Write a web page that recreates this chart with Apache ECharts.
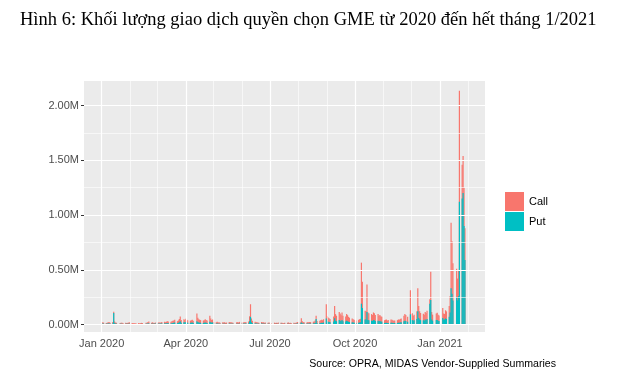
<!DOCTYPE html>
<html><head><meta charset="utf-8">
<script src="https://cdn.jsdelivr.net/npm/echarts@6/dist/echarts.min.js"></script>
<style>html,body{margin:0;padding:0;background:#fff}#c{width:626px;height:375px}</style>
</head><body><div id="c"></div>
<script>
// Daily GME option volume, thousands of contracts
const callJan20 = [12,10,8,9,11,14,10,12,12,15,10,9,8,10,9,8,10,8,9,10,12];
const putJan20  = [8,7,6,7,9,8,6,10,105,12,8,7,6,7,6,5,7,6,6,7,8];
const callFeb20 = [8,7,9,6,7,8,6,7,9,8,10,9,14,18,10,12,9,8,11];
const putFeb20  = [5,4,5,4,5,5,4,5,6,5,6,6,8,10,7,8,6,6,8];
const callMar20 = [10,12,9,11,13,15,12,14,18,16,15,17,20,22,25,18,22,30,42,25,28,24];
const putMar20  = [7,8,6,8,9,10,9,10,12,11,10,12,14,15,18,12,15,20,30,16,20,18];
const callApr20 = [30,25,22,20,22,25,20,70,40,30,28,25,22,24,30,26,22,55,35,25,28];
const putApr20  = [22,18,16,15,16,18,14,30,22,18,16,15,14,15,18,16,14,25,20,16,18];
const callMay20 = [15,14,16,12,13,11,14,12,13,10,12,15,13,14,12,11,13,14,12,16];
const putMay20  = [8,7,8,6,7,6,7,6,7,5,6,8,7,7,6,6,7,7,6,8];
const callJun20 = [12,11,14,13,15,18,45,115,35,22,16,14,13,12,11,14,12,13,11,12,10,12];
const putJun20  = [7,6,8,7,8,10,30,70,20,12,9,8,7,7,6,8,7,7,6,7,6,7];
const callJul20 = [10,9,11,8,10,9,12,11,10,9,8,11,10,12,9,10,8,11,9,10,12,14];
const putJul20  = [6,5,6,5,6,5,7,6,6,5,5,6,6,7,5,6,5,6,5,6,7,8];
const callAug20 = [12,40,20,14,13,12,14,13,15,14,16,18,22,30,20,22,25,28,24,30,130];
const putAug20  = [7,18,10,8,7,7,8,7,8,8,9,10,14,50,12,12,14,16,14,18,55];
const callSep20 = [45,40,35,30,45,110,60,50,75,65,55,70,50,45,60,55,45,40,35,30,28];
const putSep20  = [30,25,22,20,28,58,35,30,40,35,30,40,30,28,35,30,25,22,20,18,16];
const callOct20 = [25,22,28,30,32,375,240,80,75,250,70,65,60,55,70,65,55,60,50,55,48,45];
const putOct20  = [15,14,16,18,20,190,150,45,45,115,40,38,35,32,40,38,32,35,30,32,28,26];
const callNov20 = [25,28,30,24,26,30,28,25,22,24,26,30,28,32,35,50,60,55,45,220];
const putNov20  = [14,15,16,13,14,16,15,14,12,13,14,16,15,18,20,30,35,32,25,93];
const callDec20 = [55,60,45,50,70,210,110,75,65,60,55,70,65,75,40,259,70,55,60,65,55,50];
const putDec20  = [40,42,35,38,50,120,60,45,40,38,35,45,40,50,190,223,45,35,40,42,35,32];
const callJan21 = [90,55,50,75,70,100,150,600,480,340,260,200,230,1015,310,340,350,290];
const putJan21  = [60,45,45,55,50,70,110,330,280,220,250,220,260,1120,1150,1200,900,590];

const HOLIDAYS = ['2020-01-01','2020-01-20','2020-02-17','2020-04-10','2020-05-25','2020-07-03',
  '2020-09-07','2020-11-26','2020-12-25','2021-01-01','2021-01-18'];
const LAST_DAY = '2021-01-28';

const MONTHS = [
  [2020,0,callJan20,putJan20],[2020,1,callFeb20,putFeb20],[2020,2,callMar20,putMar20],
  [2020,3,callApr20,putApr20],[2020,4,callMay20,putMay20],[2020,5,callJun20,putJun20],
  [2020,6,callJul20,putJul20],[2020,7,callAug20,putAug20],[2020,8,callSep20,putSep20],
  [2020,9,callOct20,putOct20],[2020,10,callNov20,putNov20],[2020,11,callDec20,putDec20],
  [2021,0,callJan21,putJan21]
];

const Y_TICKS = [0, 500000, 1000000, 1500000, 2000000];
const Y_MINOR = [250000, 750000, 1250000, 1750000];
const X_TICKS = ['2020-01-01','2020-04-01','2020-07-01','2020-10-01','2021-01-01'];
const X_MINOR = ['2020-02-01','2020-03-01','2020-05-01','2020-06-01','2020-08-01','2020-09-01',
  '2020-11-01','2020-12-01','2021-02-01'];
const MONTH_ABBR = ['Jan','Feb','Mar','Apr','May','Jun','Jul','Aug','Sep','Oct','Nov','Dec'];

const ts = s => Date.parse(s + 'T00:00:00Z');
const DAY = 86400000;
const hol = new Set(HOLIDAYS);
const lastTs = ts(LAST_DAY);

// Call sits stacked on top of Put: the call bar spans from 0 to put+call, the put bar is drawn over it.
const callTopData = [], putData = [];
MONTHS.forEach(([y, m, calls, puts]) => {
  const days = [];
  for (let d = 1; d <= 31; d++) {
    const t = Date.UTC(y, m, d);
    const dt = new Date(t);
    if (dt.getUTCMonth() !== m) break;
    const wd = dt.getUTCDay();
    if (wd === 0 || wd === 6) continue;
    const iso = dt.toISOString().slice(0, 10);
    if (hol.has(iso) || t > lastTs) continue;
    days.push(t);
  }
  if (days.length !== calls.length || days.length !== puts.length) console.error('length mismatch', y, m, days.length, calls.length);
  days.forEach((t, i) => {
    callTopData.push([t, (calls[i] + puts[i]) * 1000]);
    putData.push([t, puts[i] * 1000]);
  });
});

const chart = echarts.init(document.getElementById('c'), null, {renderer: 'canvas'});
const axisFont = 'Liberation Sans, Arial, sans-serif';
const gridLines = []
  .concat(Y_TICKS.map(v => ({yAxis: v, lineStyle: {width: 1.2}})))
  .concat(Y_MINOR.map(v => ({yAxis: v, lineStyle: {width: 0.6}})))
  .concat(X_TICKS.map(s => ({xAxis: ts(s), lineStyle: {width: 1.2}})))
  .concat(X_MINOR.map(s => ({xAxis: ts(s), lineStyle: {width: 0.6}})));

chart.setOption({
  animation: false,
  backgroundColor: '#ffffff',
  title: [{
    text: 'Hình 6: Khối lượng giao dịch quyền chọn GME từ 2020 đến hết tháng 1/2021',
    left: 15, top: 6,
    textStyle: {fontFamily: 'Liberation Serif, Times New Roman, serif', fontSize: 18.5, fontWeight: 'normal', color: '#000'}
  }, {
    text: 'Source: OPRA, MIDAS Vendor-Supplied Summaries',
    right: 65, top: 354,
    textStyle: {fontFamily: axisFont, fontSize: 10.6, fontWeight: 'normal', color: '#000'}
  }],
  legend: {
    data: ['Call', 'Put'],
    orient: 'vertical', left: 500, top: 187, itemGap: 1,
    itemWidth: 19, itemHeight: 19, icon: 'rect',
    textStyle: {fontFamily: axisFont, fontSize: 11, color: '#000'}
  },
  grid: {left: 84, right: 141, top: 81, bottom: 43, show: true, backgroundColor: '#EBEBEB', borderWidth: 0, containLabel: false},
  xAxis: {
    type: 'value',
    min: ts('2020-01-01') - 19.15 * DAY,
    max: ts('2021-01-01') + 48.7 * DAY,
    axisLine: {show: false},
    splitLine: {show: false},
    axisTick: {show: true, length: 3, lineStyle: {color: '#333333', width: 1}, customValues: X_TICKS.map(ts)},
    axisLabel: {
      customValues: X_TICKS.map(ts), margin: 6,
      color: '#4D4D4D', fontSize: 11, fontFamily: axisFont,
      formatter: v => { const d = new Date(v); return MONTH_ABBR[d.getUTCMonth()] + ' ' + d.getUTCFullYear(); }
    }
  },
  yAxis: {
    type: 'value',
    min: -68500, max: 2224000,
    axisLine: {show: false},
    splitLine: {show: false},
    axisTick: {show: true, length: 3, lineStyle: {color: '#333333', width: 1}, customValues: Y_TICKS},
    axisLabel: {
      customValues: Y_TICKS, margin: 5,
      color: '#4D4D4D', fontSize: 11, fontFamily: axisFont,
      formatter: v => (v / 1e6).toFixed(2) + 'M'
    }
  },
  series: [{
    type: 'line', data: [], z: 1, silent: true,
    markLine: {silent: true, symbol: 'none', label: {show: false}, animation: false,
      lineStyle: {color: '#ffffff', type: 'solid'}, data: gridLines}
  }, {
    name: 'Call', type: 'bar', data: callTopData, z: 2,
    barWidth: 1.2, barGap: '-100%', itemStyle: {color: '#F8766D'}
  }, {
    name: 'Put', type: 'bar', data: putData, z: 3,
    barWidth: 1.2, barGap: '-100%', itemStyle: {color: '#00BFC4'}
  }]
});
</script></body></html>
